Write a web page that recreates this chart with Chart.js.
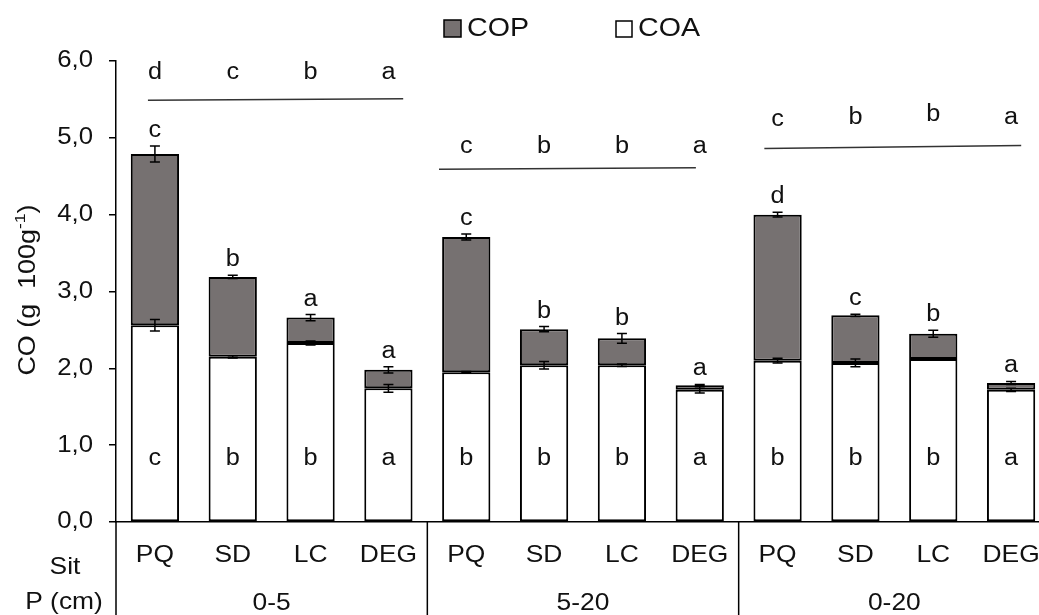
<!DOCTYPE html>
<html>
<head>
<meta charset="utf-8">
<script src="https://cdn.jsdelivr.net/npm/chart.js@4"></script>
<style>
html,body{margin:0;padding:0;background:#fff;overflow:hidden;width:1039px;height:615px;}
canvas{display:block;}
</style>
</head>
<body>
<canvas id="c" width="1052" height="615"></canvas>
<script>
// ---- data ----
const categories = ['PQ','SD','LC','DEG','PQ','SD','LC','DEG','PQ','SD','LC','DEG'];
const depthGroups = ['0-5','5-20','0-20'];
const coaValues = [2.56, 2.15, 2.33, 1.74, 1.95, 2.04, 2.04, 1.72, 2.10, 2.07, 2.12, 1.72];
const copValues = [2.23, 1.04, 0.33, 0.24, 1.76, 0.47, 0.35, 0.06, 1.90, 0.62, 0.33, 0.09];
const coaErr = [0.075, 0.015, 0.025, 0.05, 0.01, 0.05, 0.015, 0.04, 0.03, 0.05, 0.015, 0.02];
const totalErr = [0.105, 0.02, 0.04, 0.04, 0.04, 0.033, 0.063, 0.01, 0.03, 0.015, 0.045, 0.02];
const copLetters = ['c','b','a','a','c','b','b','a','d','c','b','a'];
const coaLetters = ['c','b','b','a','b','b','b','a','b','b','b','a'];
const groupLetters = [['d','c','b','a'],['c','b','b','a'],['c','b','b','a']];
const yTicks = [0,1,2,3,4,5,6];

const FONT = '"Liberation Sans", Arial, sans-serif';
const GRAY = '#767171';
const INK = '#111';
const SX = 1.1; // horizontal text stretch

// layout helpers (positions, not data)
const groupLetterBase = [[5.77,5.77,5.77,5.77],[4.80,4.80,4.80,4.80],[5.15,5.18,5.22,5.18]];
const groupLineY = [[5.49,5.51],[4.59,4.61],[4.86,4.90]];
const groupLineX = [[0.41,3.69],[4.15,7.45],[8.33,11.63]];

function txt(ctx, s, x, y, size, align, base, sx){
  ctx.save();
  ctx.translate(x, y);
  ctx.scale(sx || SX, 1);
  ctx.font = size + 'px ' + FONT;
  ctx.textAlign = align || 'center';
  ctx.textBaseline = base || 'alphabetic';
  ctx.fillStyle = INK;
  ctx.fillText(s, 0, 0);
  ctx.restore();
}

const annot = {
  id:'annot',
  afterDatasetsDraw(chart){
    const ctx = chart.ctx, x = chart.scales.x, y = chart.scales.y;
    const ca = chart.chartArea;
    const catW = (ca.right - ca.left)/categories.length;
    ctx.save();
    // error bars
    ctx.strokeStyle = '#000'; ctx.lineWidth = 1.5;
    const cap = 5;
    function eb(cx, v, e){
      const t = y.getPixelForValue(v+e), b = y.getPixelForValue(v-e);
      ctx.beginPath();
      ctx.moveTo(cx, t); ctx.lineTo(cx, b);
      ctx.moveTo(cx-cap, t); ctx.lineTo(cx+cap, t);
      ctx.moveTo(cx-cap, b); ctx.lineTo(cx+cap, b);
      ctx.stroke();
    }
    categories.forEach((c,i)=>{
      const cx = x.getPixelForValue(i);
      eb(cx, coaValues[i], coaErr[i]);
      eb(cx, coaValues[i]+copValues[i], totalErr[i]);
    });
    // y tick labels
    yTicks.forEach(v=>{
      txt(ctx, v.toFixed(1).replace('.',','), 93, y.getPixelForValue(v), 23, 'right', 'middle', 1.12);
    });
    // letters above bars and inside bars
    categories.forEach((c,i)=>{
      const cx = x.getPixelForValue(i);
      const top = y.getPixelForValue(coaValues[i]+copValues[i]+totalErr[i]);
      txt(ctx, copLetters[i], cx, top - 9, 23);
      txt(ctx, coaLetters[i], cx, y.getPixelForValue(0.74), 23);
    });
    // group letters and lines
    groupLetters.forEach((g,gi)=>{
      g.forEach((l,k)=>{
        txt(ctx, l, x.getPixelForValue(gi*4+k), y.getPixelForValue(groupLetterBase[gi][k]), 23);
      });
      ctx.strokeStyle = '#333'; ctx.lineWidth = 1.5;
      ctx.beginPath();
      ctx.moveTo(ca.left + groupLineX[gi][0]*catW, y.getPixelForValue(groupLineY[gi][0]));
      ctx.lineTo(ca.left + groupLineX[gi][1]*catW, y.getPixelForValue(groupLineY[gi][1]));
      ctx.stroke();
    });
    // below-axis separators
    ctx.strokeStyle = '#000'; ctx.lineWidth = 1.5;
    const seps = [ca.left, ca.left + 4*catW, ca.left + 8*catW];
    ctx.beginPath();
    seps.forEach(sx=>{ ctx.moveTo(sx, ca.bottom); ctx.lineTo(sx, chart.height); });
    ctx.stroke();
    // category labels
    categories.forEach((c,i)=>{ txt(ctx, c, x.getPixelForValue(i), 555, 24, 'center', 'middle'); });
    depthGroups.forEach((g,gi)=>{ txt(ctx, g, ca.left + (gi*4+2)*catW, 603, 24, 'center', 'middle'); });
    txt(ctx, 'Sit', 65, 567, 24, 'center', 'middle');
    txt(ctx, 'P (cm)', 64, 602, 24, 'center', 'middle');
    // y title
    ctx.save();
    ctx.translate(29, 290);
    ctx.rotate(-Math.PI/2);
    ctx.scale(1.17, 1);
    ctx.fillStyle = INK;
    ctx.textAlign = 'left'; ctx.textBaseline = 'middle';
    const p1 = 'CO (g  100g', p2 = '-1', p3 = ')';
    ctx.font = '23px ' + FONT; const w1 = ctx.measureText(p1).width, w3 = ctx.measureText(p3).width;
    ctx.font = '15px ' + FONT; const w2 = ctx.measureText(p2).width;
    let sx = -(w1+w2+w3)/2;
    ctx.font = '23px ' + FONT; ctx.fillText(p1, sx, 0); sx += w1;
    ctx.font = '15px ' + FONT; ctx.fillText(p2, sx, -8); sx += w2;
    ctx.font = '23px ' + FONT; ctx.fillText(p3, sx, 0);
    ctx.restore();
    // legend
    ctx.lineWidth = 1.5; ctx.strokeStyle = '#000';
    ctx.fillStyle = GRAY; ctx.fillRect(444, 20, 17, 17); ctx.strokeRect(444, 20, 17, 17);
    txt(ctx, 'COP', 467, 29, 26, 'left', 'middle');
    ctx.fillStyle = '#fff'; ctx.fillRect(616, 21, 16, 16); ctx.strokeRect(616, 21, 16, 16);
    txt(ctx, 'COA', 638, 29, 26, 'left', 'middle');
    ctx.restore();
  }
};

new Chart(document.getElementById('c'), {
  type:'bar',
  data:{
    labels: categories,
    datasets:[
      {label:'COA', data: coaValues, backgroundColor:'#fff', borderColor:'#000', borderWidth:2, borderSkipped:false},
      {label:'COP', data: copValues, backgroundColor: GRAY, borderColor:'#000', borderWidth:2, borderSkipped:false}
    ]
  },
  options:{
    responsive:false, animation:false, devicePixelRatio:1,
    layout:{padding:{top:61, right:2, left:0, bottom:0}},
    datasets:{bar:{barPercentage:0.62, categoryPercentage:1}},
    plugins:{legend:{display:false}, tooltip:{enabled:false}},
    scales:{
      x:{stacked:true, ticks:{display:false}, grid:{display:false}, border:{color:'#000', width:1.5},
         afterFit(s){ s.height = 93; }},
      y:{stacked:true, min:0, max:6,
         afterBuildTicks(s){ s.ticks = yTicks.map(v=>({value:v})); },
         ticks:{display:false},
         grid:{drawOnChartArea:false, drawTicks:true, tickLength:7, color:'#000', lineWidth:1.5},
         border:{color:'#000', width:1.5},
         afterFit(s){ s.width = 116; }}
    }
  },
  plugins:[annot]
});
</script>
</body>
</html>
